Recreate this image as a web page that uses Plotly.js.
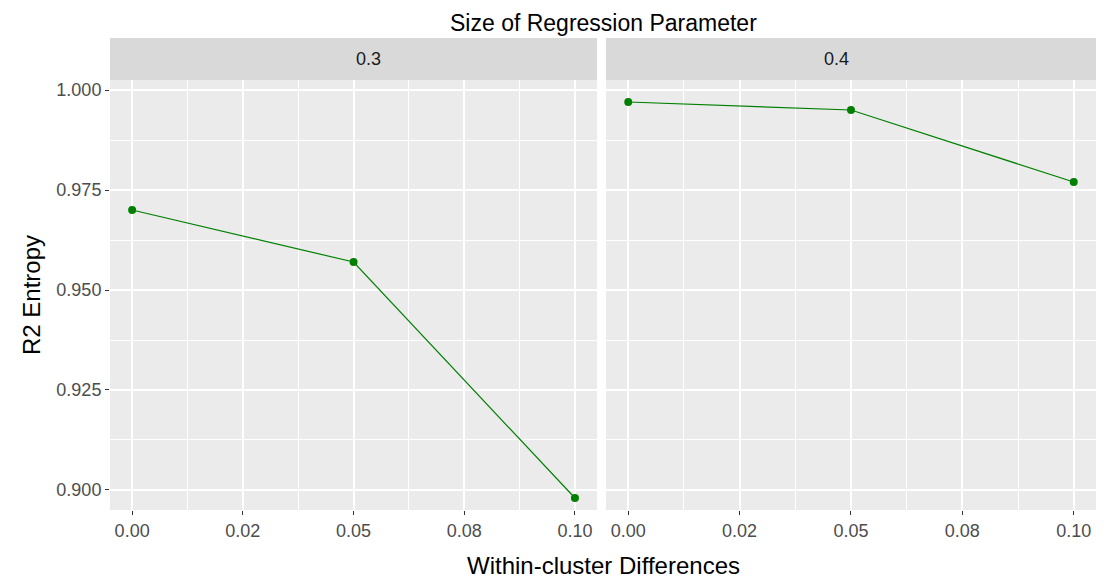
<!DOCTYPE html>
<html>
<head>
<meta charset="utf-8">
<script src="https://cdn.plot.ly/plotly-3.0.1.min.js"></script>
<style>body{margin:0}#chart{width:1104px;height:586px}</style>
</head>
<body>
<div id="chart"></div>
<script>
// data
const withinDiff = [0.00, 0.05, 0.10];
const r2Param03 = [0.970, 0.957, 0.898];
const r2Param04 = [0.997, 0.995, 0.977];
const facetLabels = ['0.3', '0.4'];
const xTickVals = [0, 0.025, 0.05, 0.075, 0.1];
const xTickText = ['0.00', '0.02', '0.05', '0.08', '0.10'];
const yTickVals = [0.9, 0.925, 0.95, 0.975, 1.0];
const yTickText = ['0.900', '0.925', '0.950', '0.975', '1.000'];

const green = '#008000';
const mk = (y, xa) => ({
    x: withinDiff, y: y, xaxis: xa, yaxis: 'y',
    mode: 'lines+markers', type: 'scatter',
    line: {color: green, width: 1.2},
    marker: {color: green, size: 8},
    showlegend: false, hoverinfo: 'x+y'
});

const tickFont = {size: 18, color: '#4D4D4D'};
const xAxisBase = (domain) => ({
    domain: domain, range: [-0.005, 0.105],
    tickmode: 'array', tickvals: xTickVals, ticktext: xTickText,
    tickfont: tickFont, ticks: 'outside', ticklen: 4, tickcolor: '#333',
    showgrid: true, gridcolor: '#FFFFFF', gridwidth: 2,
    minor: {tickvals: [0.0125, 0.0375, 0.0625, 0.0875], showgrid: true, gridcolor: '#FFFFFF', gridwidth: 1},
    zeroline: false, showline: false, fixedrange: true
});

const stripTop = 1, stripBot = 0.911;
const d1 = [0, 0.494], d2 = [0.503, 1];

const layout = {
    width: 1104, height: 586,
    margin: {l: 110, r: 8, t: 38, b: 76},
    paper_bgcolor: '#FFFFFF', plot_bgcolor: 'rgba(0,0,0,0)',
    font: {family: 'Liberation Sans, Arial, sans-serif', color: '#000'},
    xaxis: xAxisBase(d1),
    xaxis2: Object.assign(xAxisBase(d2), {anchor: 'y'}),
    yaxis: {
        domain: [0, stripBot], range: [0.895, 1.0025],
        tickmode: 'array', tickvals: yTickVals, ticktext: yTickText,
        tickfont: tickFont, ticks: 'outside', ticklen: 4, tickcolor: '#333',
        showgrid: true, gridcolor: '#FFFFFF', gridwidth: 2,
        minor: {tickvals: [0.9125, 0.9375, 0.9625, 0.9875], showgrid: true, gridcolor: '#FFFFFF', gridwidth: 1},
        zeroline: false, fixedrange: true,
        title: {text: 'R2 Entropy', font: {size: 24}, standoff: 8}
    },
    shapes: [
        {type: 'rect', xref: 'paper', yref: 'paper', x0: d1[0], x1: d1[1], y0: 0, y1: stripBot, fillcolor: '#EBEBEB', line: {width: 0}, layer: 'below'},
        {type: 'rect', xref: 'paper', yref: 'paper', x0: d2[0], x1: d2[1], y0: 0, y1: stripBot, fillcolor: '#EBEBEB', line: {width: 0}, layer: 'below'},
        {type: 'rect', xref: 'paper', yref: 'paper', x0: d1[0], x1: d1[1], y0: stripBot, y1: stripTop, fillcolor: '#D9D9D9', line: {width: 0}},
        {type: 'rect', xref: 'paper', yref: 'paper', x0: d2[0], x1: d2[1], y0: stripBot, y1: stripTop, fillcolor: '#D9D9D9', line: {width: 0}}
    ],
    annotations: [
        {text: facetLabels[0], xref: 'paper', yref: 'paper', x: (d1[0] + d1[1]) / 2, y: (stripTop + stripBot) / 2, yanchor: 'middle', showarrow: false, font: {size: 18, color: '#1A1A1A'}},
        {text: facetLabels[1], xref: 'paper', yref: 'paper', x: (d2[0] + d2[1]) / 2, y: (stripTop + stripBot) / 2, yanchor: 'middle', showarrow: false, font: {size: 18, color: '#1A1A1A'}},
        {text: 'Size of Regression Parameter', xref: 'paper', yref: 'paper', x: 0.5, y: 1, yshift: 0, yanchor: 'bottom', showarrow: false, font: {size: 23}},
        {text: 'Within-cluster Differences', xref: 'paper', yref: 'paper', x: 0.5, y: 0, yshift: -40, yanchor: 'top', showarrow: false, font: {size: 24}}
    ]
};

Plotly.newPlot('chart', [mk(r2Param03, 'x'), mk(r2Param04, 'x2')], layout, {displayModeBar: false, staticPlot: true});
</script>
</body>
</html>
